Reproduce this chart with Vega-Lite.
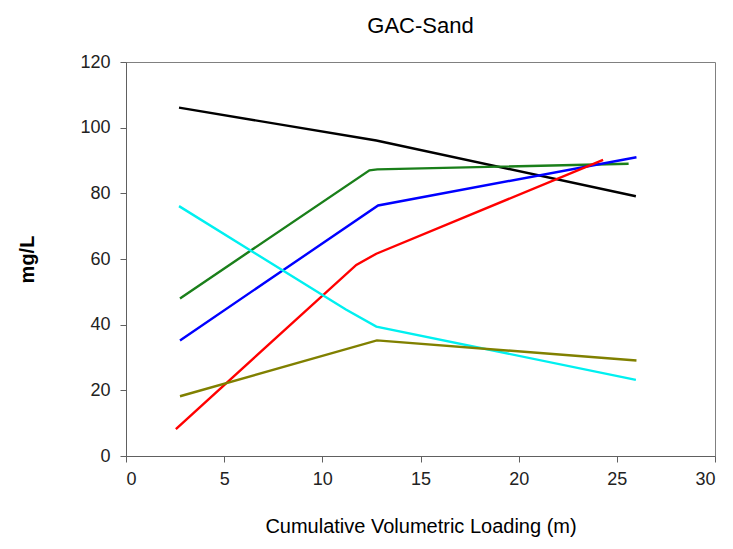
{
  "$schema": "https://vega.github.io/schema/vega-lite/v6.json",
  "autosize": "none",
  "width": 589,
  "height": 394,
  "padding": {"left": 126, "top": 62, "right": 18, "bottom": 93},
  "background": "white",
  "title": {"text": "GAC-Sand", "fontSize": 22, "font": "Liberation Sans", "fontWeight": "normal", "color": "#000000", "offset": 15},
  "config": {
    "view": {"stroke": "#808080", "strokeWidth": 1},
    "font": "Liberation Sans"
  },
  "data": {"values": [
    {"series": "A", "x": 2.7, "y": 106.1},
    {"series": "A", "x": 12.75, "y": 96.1},
    {"series": "A", "x": 25.97, "y": 79.1},
    {"series": "B", "x": 2.75, "y": 48.0},
    {"series": "B", "x": 12.4, "y": 87.0},
    {"series": "B", "x": 12.8, "y": 87.3},
    {"series": "B", "x": 25.6, "y": 89.0},
    {"series": "C", "x": 2.75, "y": 35.2},
    {"series": "C", "x": 12.84, "y": 76.3},
    {"series": "C", "x": 26.0, "y": 91.0},
    {"series": "D", "x": 2.54, "y": 8.2},
    {"series": "D", "x": 11.73, "y": 58.2},
    {"series": "D", "x": 12.75, "y": 61.6},
    {"series": "D", "x": 24.3, "y": 90.2},
    {"series": "E", "x": 2.7, "y": 76.1},
    {"series": "E", "x": 11.2, "y": 44.6},
    {"series": "E", "x": 12.75, "y": 39.4},
    {"series": "E", "x": 25.97, "y": 23.2},
    {"series": "F", "x": 2.75, "y": 18.2},
    {"series": "F", "x": 12.78, "y": 35.2},
    {"series": "F", "x": 26.0, "y": 29.1}
  ]},
  "mark": {"type": "line", "strokeWidth": 2.4},
  "encoding": {
    "x": {"field": "x", "type": "quantitative",
      "scale": {"domain": [0, 30], "nice": false, "zero": false},
      "axis": {"values": [0, 5, 10, 15, 20, 25, 30], "title": "Cumulative Volumetric Loading (m)",
        "grid": false, "domainColor": "#606060", "tickColor": "#606060", "tickSize": 6,
        "labelFontSize": 18, "labelColor": "#222222", "labelPadding": 8,
        "titleFontSize": 20, "titleFontWeight": "normal", "titleColor": "#000000", "titlePadding": 28}},
    "y": {"field": "y", "type": "quantitative",
      "scale": {"domain": [0, 120], "nice": false},
      "axis": {"values": [0, 20, 40, 60, 80, 100, 120], "title": "mg/L",
        "grid": false, "domainColor": "#606060", "tickColor": "#606060", "tickSize": 6,
        "labelFontSize": 18, "labelColor": "#222222", "labelPadding": 10,
        "titleFontSize": 20, "titleFontWeight": "bold", "titleColor": "#000000", "titlePadding": 42}},
    "color": {"field": "series", "type": "nominal",
      "scale": {"domain": ["A", "B", "C", "D", "E", "F"], "range": ["#000000", "#1a7f1a", "#0000ff", "#ff0000", "#00f0f0", "#808000"]},
      "legend": null}
  }
}
